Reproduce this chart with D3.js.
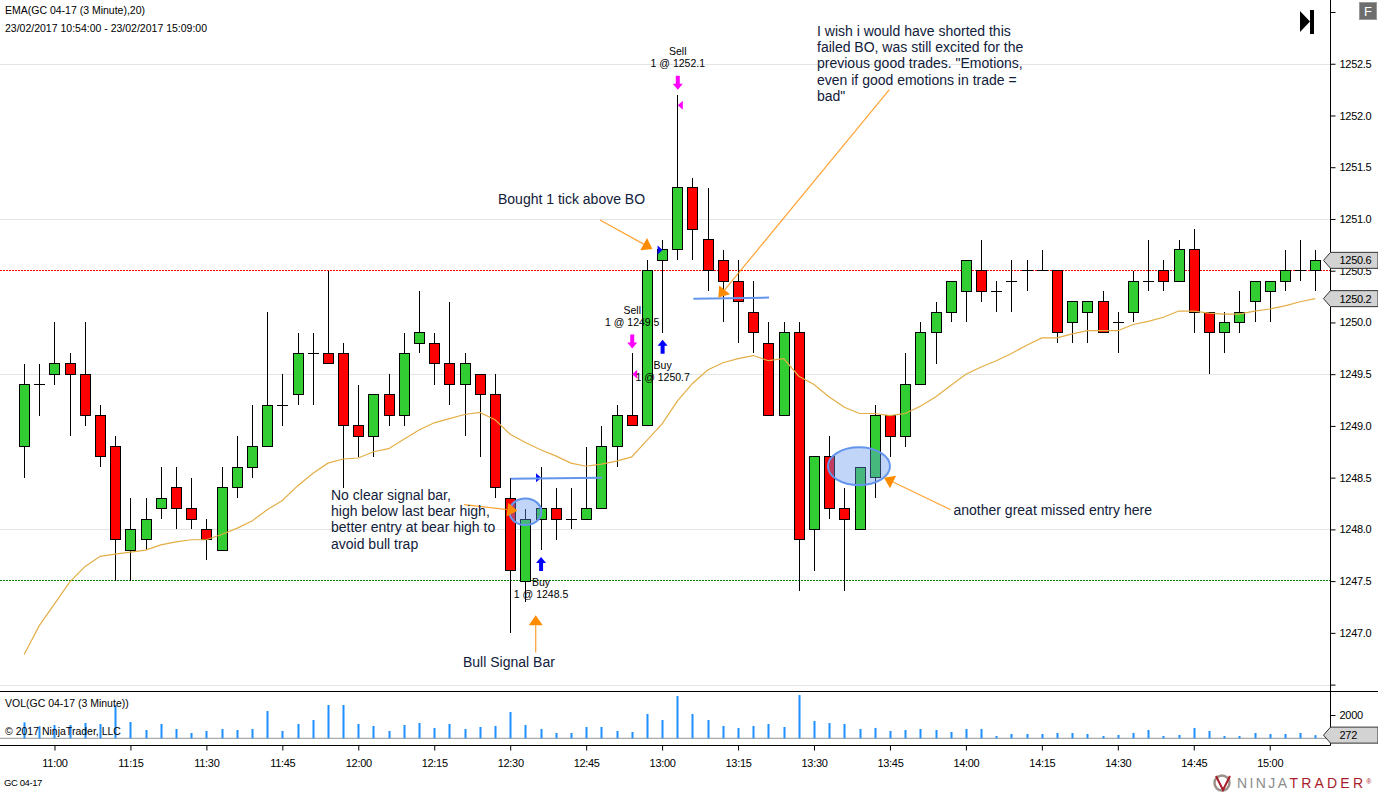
<!DOCTYPE html>
<html>
<head>
<meta charset="utf-8">
<title>GC 04-17</title>
<script src="https://cdn.jsdelivr.net/npm/d3@7"></script>
<style>
html, body { margin: 0; padding: 0; background: #fff; overflow: hidden; }
svg { display: block; }
text { font-family: "Liberation Sans", Arial, sans-serif; fill: #000; }
.tick text { font-size: 11px; letter-spacing: -0.3px; }
.note { font-size: 14px; fill: #10203a; }
.small { font-size: 10.5px; }
.trade { font-size: 10.5px; text-anchor: middle; }
</style>
</head>
<body>
<svg width="1378" height="792"></svg>
<script>
var opens = [1248.8,1249.4,1249.5,1249.6,1249.5,1249.1,1248.8,1247.8,1247.9,1248.2,1248.4,1248.2,1248.0,1247.8,1248.4,1248.6,1248.8,1249.2,1249.3,1249.7,1249.7,1249.7,1249.0,1248.9,1249.3,1249.1,1249.8,1249.8,1249.6,1249.4,1249.5,1249.3,1248.3,1247.5,1248.1,1248.2,1248.1,1248.1,1248.2,1248.8,1249.1,1249.0,1250.6,1250.7,1251.3,1250.8,1250.6,1250.4,1250.1,1249.8,1249.1,1249.9,1248.0,1248.7,1248.2,1248.0,1248.5,1249.1,1248.9,1249.4,1249.9,1250.1,1250.3,1250.5,1250.3,1250.4,1250.5,1250.5,1250.5,1250.0,1250.1,1250.2,1250.0,1250.1,1250.4,1250.5,1250.4,1250.7,1250.1,1249.9,1250.0,1250.2,1250.3,1250.4,1250.5,1250.5];
var highs = [1249.6,1249.6,1250.0,1249.7,1250.0,1249.2,1248.9,1248.3,1248.3,1248.6,1248.6,1248.5,1248.1,1248.6,1248.9,1249.2,1250.1,1249.5,1249.9,1249.9,1250.5,1249.8,1249.4,1249.3,1249.5,1249.9,1250.3,1249.9,1250.2,1249.7,1249.5,1249.5,1248.5,1248.2,1248.6,1248.4,1248.4,1248.8,1249.0,1249.2,1249.7,1250.6,1250.8,1252.2,1251.4,1251.3,1250.7,1250.6,1250.4,1250.0,1250.0,1250.0,1248.7,1248.9,1248.4,1248.6,1249.2,1249.1,1249.7,1250.0,1250.2,1250.4,1250.6,1250.8,1250.4,1250.6,1250.6,1250.7,1250.5,1250.2,1250.2,1250.3,1250.1,1250.5,1250.8,1250.6,1250.8,1250.9,1250.1,1250.1,1250.3,1250.4,1250.4,1250.7,1250.8,1250.7];
var lows = [1248.5,1249.1,1249.4,1248.9,1249.0,1248.6,1247.5,1247.5,1247.8,1248.1,1248.0,1248.0,1247.7,1247.8,1248.3,1248.5,1248.8,1249.0,1249.2,1249.2,1249.6,1248.4,1248.7,1248.7,1249.0,1249.0,1249.7,1249.4,1249.2,1248.9,1248.7,1248.3,1247.0,1247.3,1247.8,1247.9,1248.0,1248.1,1248.2,1248.6,1249.0,1249.0,1249.9,1250.6,1250.6,1250.3,1250.0,1249.8,1249.7,1249.1,1249.1,1247.4,1247.6,1248.1,1247.4,1248.0,1248.3,1248.7,1248.8,1249.4,1249.6,1250.0,1250.0,1250.2,1250.1,1250.1,1250.3,1250.5,1249.8,1249.8,1249.8,1249.9,1249.7,1250.0,1250.3,1250.3,1250.4,1249.9,1249.5,1249.7,1249.9,1250.0,1250.0,1250.3,1250.4,1250.3];
var closes = [1249.4,1249.4,1249.6,1249.5,1249.1,1248.7,1247.9,1248.0,1248.1,1248.3,1248.2,1248.1,1247.9,1248.4,1248.6,1248.8,1249.2,1249.2,1249.7,1249.7,1249.6,1249.0,1248.9,1249.3,1249.1,1249.7,1249.9,1249.6,1249.4,1249.6,1249.3,1248.4,1247.6,1248.1,1248.2,1248.1,1248.1,1248.2,1248.8,1249.1,1249.0,1250.5,1250.7,1251.3,1250.9,1250.5,1250.4,1250.2,1249.9,1249.1,1249.9,1247.9,1248.7,1248.2,1248.1,1248.6,1249.1,1248.9,1249.4,1249.9,1250.1,1250.4,1250.6,1250.3,1250.3,1250.4,1250.5,1250.5,1249.9,1250.2,1250.2,1249.9,1250.0,1250.4,1250.4,1250.4,1250.7,1250.1,1249.9,1250.0,1250.1,1250.4,1250.4,1250.5,1250.5,1250.6];
var emaValues = [1246.79,1247.07,1247.28,1247.49,1247.64,1247.74,1247.76,1247.78,1247.80,1247.85,1247.88,1247.90,1247.90,1247.95,1248.01,1248.08,1248.19,1248.28,1248.42,1248.54,1248.64,1248.68,1248.69,1248.75,1248.78,1248.87,1248.96,1249.03,1249.07,1249.11,1249.13,1249.06,1248.92,1248.84,1248.77,1248.71,1248.64,1248.61,1248.63,1248.66,1248.70,1248.86,1249.02,1249.24,1249.41,1249.54,1249.61,1249.65,1249.68,1249.63,1249.65,1249.48,1249.40,1249.28,1249.18,1249.12,1249.12,1249.10,1249.12,1249.19,1249.28,1249.39,1249.50,1249.57,1249.63,1249.70,1249.78,1249.85,1249.85,1249.89,1249.92,1249.92,1249.92,1249.98,1250.01,1250.05,1250.11,1250.11,1250.09,1250.08,1250.08,1250.11,1250.13,1250.16,1250.20,1250.23];
var volumes = [1370,1030,1140,1140,1310,1230,2860,1400,714,1230,800,457,630,800,714,800,2340,630,1230,1570,2860,2860,1230,1060,630,1140,1310,890,1230,800,970,1060,2260,1140,800,457,457,970,970,630,540,2090,1570,3630,2090,1570,1060,890,1060,1230,970,3710,1490,1310,1230,800,890,630,714,800,714,540,800,800,200,370,370,370,457,457,370,200,286,457,714,200,286,890,630,200,200,457,370,370,457,272];

var priceTicks = [1246.5,1247,1247.5,1248,1248.5,1249,1249.5,1250,1250.5,1251,1251.5,1252,1252.5,1253];
var hiddenPriceTicks = [1246.5,1253];
var gridPrices = [1246.5,1248,1249.5,1251,1252.5];
var levelPrices = [1250.5,1247.5];
var levelColors = ["#ff0000","#008000"];

var tradeBars = [34,40,42,43];
var tradeSides = ["Buy","Sell","Buy","Sell"];
var tradePrices = [1248.5,1249.5,1250.7,1252.1];

var wishLines = ["I wish i would have shorted this","failed BO, was still excited for the","previous good trades. \"Emotions,","even if good emotions in trade =","bad\""];
var signalLines = ["No clear signal bar,","high below last bear high,","better entry at bear high to","avoid bull trap"];

var svg = d3.select("svg"),
    startTime = new Date(2017, 1, 23, 10, 54),
    endTime = new Date(2017, 1, 23, 15, 9),
    axisX = 1330.5,
    priceBottom = 691,
    volBottom = 745.5;

var barTime = function(i) { return new Date(+startTime + i * 180000); };

var x = d3.scaleTime().domain([startTime, endTime]).range([24.1, 1315.3]);
var y = d3.scaleLinear().domain([1246.5, 1253]).range([684.6, 12]);
var v = d3.scaleLinear().domain([0, 2000]).range([738.3, 715]);

var px = function(i) { return x(barTime(i)); };

// price grid
svg.append("g").selectAll("line")
    .data(gridPrices)
    .join("line")
    .attr("x1", 0).attr("x2", axisX)
    .attr("y1", function(d) { return Math.round(y(d)) + 0.5; })
    .attr("y2", function(d) { return Math.round(y(d)) + 0.5; })
    .attr("stroke", "#e4e4e4");

// horizontal levels
svg.append("g").selectAll("line")
    .data(levelPrices)
    .join("line")
    .attr("x1", 0).attr("x2", axisX)
    .attr("y1", function(d) { return Math.round(y(d)) - 0.5; })
    .attr("y2", function(d) { return Math.round(y(d)) - 0.5; })
    .attr("stroke", function(d, i) { return levelColors[i]; })
    .attr("stroke-dasharray", "2,1");

// candles
var candle = svg.append("g").selectAll("g")
    .data(d3.range(opens.length))
    .join("g")
    .attr("transform", function(i) { return "translate(" + Math.round(px(i)) + ",0)"; })
    .attr("shape-rendering", "crispEdges");

candle.append("line")
    .attr("x1", 0.5).attr("x2", 0.5)
    .attr("y1", function(i) { return y(highs[i]); })
    .attr("y2", function(i) { return y(lows[i]); })
    .attr("stroke", "#000");

candle.filter(function(i) { return opens[i] != closes[i]; })
    .append("rect")
    .attr("x", -5).attr("width", 10)
    .attr("y", function(i) { return y(Math.max(opens[i], closes[i])); })
    .attr("height", function(i) { return Math.abs(y(opens[i]) - y(closes[i])); })
    .attr("fill", function(i) { return closes[i] > opens[i] ? "#32cd32" : "#ff0000"; })
    .attr("stroke", "#000");

candle.filter(function(i) { return opens[i] == closes[i]; })
    .append("line")
    .attr("x1", -5).attr("x2", 6)
    .attr("y1", function(i) { return y(opens[i]); })
    .attr("y2", function(i) { return y(opens[i]); })
    .attr("stroke", "#000");

// ema
svg.append("path")
    .datum(emaValues)
    .attr("d", d3.line()
        .x(function(d, i) { return px(i); })
        .y(function(d) { return y(d); }))
    .attr("fill", "none")
    .attr("stroke", "#e3ae45")
    .attr("stroke-width", 1.2);

// axes
var priceAxis = d3.axisRight(y)
    .tickValues(priceTicks)
    .tickSize(5)
    .tickFormat(function(d) { return hiddenPriceTicks.indexOf(d) >= 0 ? "" : d3.format(".1f")(d); });
var gy = svg.append("g")
    .attr("transform", "translate(" + axisX + ",0)")
    .call(priceAxis);
gy.select(".domain").remove();
gy.selectAll("text").attr("x", 9).attr("font-family", null).attr("font-size", null);
gy.selectAll("line").attr("stroke", "#000");

var volAxis = d3.axisRight(v).tickValues([2000]).tickSize(5).tickFormat(d3.format("d"));
var gv = svg.append("g")
    .attr("transform", "translate(" + axisX + ",0)")
    .call(volAxis);
gv.select(".domain").remove();
gv.selectAll("text").attr("x", 9).attr("font-family", null).attr("font-size", null);

var timeAxis = d3.axisBottom(x)
    .ticks(d3.timeMinute.every(15))
    .tickSize(5)
    .tickPadding(9)
    .tickFormat(d3.timeFormat("%H:%M"));
var gx = svg.append("g")
    .attr("transform", "translate(0," + volBottom + ")")
    .call(timeAxis);
gx.select(".domain").remove();
gx.selectAll("text").attr("font-family", null).attr("font-size", null);

// panel frame
svg.append("line").attr("x1", axisX).attr("x2", axisX).attr("y1", 0).attr("y2", volBottom).attr("stroke", "#000");
svg.append("line").attr("x1", 0).attr("x2", 1378).attr("y1", priceBottom + 0.5).attr("y2", priceBottom + 0.5).attr("stroke", "#000");
svg.append("line").attr("x1", 0).attr("x2", axisX).attr("y1", volBottom).attr("y2", volBottom).attr("stroke", "#000");

// volume
svg.append("line").attr("x1", 0).attr("x2", axisX).attr("y1", v(0)).attr("y2", v(0)).attr("stroke", "#aaa").attr("stroke-width", 1.2);
svg.append("g").selectAll("rect")
    .data(volumes)
    .join("rect")
    .attr("x", function(d, i) { return Math.round(px(i)) - 0.5; })
    .attr("width", 2)
    .attr("y", function(d) { return v(d); })
    .attr("height", function(d) { return v(0) - v(d); })
    .attr("fill", "#1e90ff");

// value flags on the axis
function flag(cy, label) {
    var l = axisX - 7;
    svg.append("path")
        .attr("d", "M" + l + "," + cy + "L" + axisX + "," + (cy - 8) + "L1378," + (cy - 8) + "L1378," + (cy + 8) + "L" + axisX + "," + (cy + 8) + "Z")
        .attr("fill", "#d3d3d3").attr("stroke", "#333");
    svg.append("text").attr("class", "small").style("font-size", "11px").style("letter-spacing", "-0.3px")
        .attr("x", 1339.5).attr("y", cy + 4).text(label);
}
flag(y(closes[closes.length - 1]), d3.format(".1f")(closes[closes.length - 1]));
flag(y(emaValues[emaValues.length - 1]), d3.format(".1f")(emaValues[emaValues.length - 1]));
flag(v(volumes[volumes.length - 1]), volumes[volumes.length - 1]);

// trade markers
tradeBars.forEach(function(b, n) {
    var buy = tradeSides[n] == "Buy",
        col = buy ? "#0000ff" : "#ff00ff",
        cx = px(b) + 0.5,
        tip = buy ? y(lows[b]) + 7 : y(highs[b]) - 5,
        dir = buy ? 1 : -1;
    svg.append("path")
        .attr("d", "M" + cx + "," + tip + "l5," + (dir * 6) + "h-3v" + (dir * 8) + "h-4v" + (-dir * 8) + "h-3Z")
        .attr("fill", col);
    // execution triangle at fill price
    var ey = y(tradePrices[n]), ex = buy ? cx - 5 : cx + 5;
    svg.append("path")
        .attr("d", "M" + cx + "," + ey + "L" + ex + "," + (ey - 4.5) + "L" + ex + "," + (ey + 4.5) + "Z")
        .attr("fill", col);
    var top = buy ? tip + 25.5 : tip - 38,
        size = "1 @ " + d3.format(".1f")(tradePrices[n]);
    svg.append("text").attr("class", "trade").attr("x", cx).attr("y", top + 3.5).text(tradeSides[n]);
    svg.append("text").attr("class", "trade").attr("x", cx).attr("y", top + 15.5).text(size);
});

// hand drawn blue lines and ellipses
[[44.06, 1250.23, 49.04, 1250.24], [32.03, 1248.49, 38.03, 1248.50]].forEach(function(d) {
    svg.append("line")
        .attr("x1", px(d[0])).attr("y1", y(d[1]))
        .attr("x2", px(d[2])).attr("y2", y(d[3]))
        .attr("stroke", "#6495ed").attr("stroke-width", 2);
});
[[33.0, 1248.17, 16, 13.3], [54.96, 1248.61, 31, 19]].forEach(function(d) {
    svg.append("ellipse")
        .attr("cx", px(d[0])).attr("cy", y(d[1]))
        .attr("rx", d[2]).attr("ry", d[3])
        .attr("fill", "#6495ed").attr("fill-opacity", 0.4)
        .attr("stroke", "#6495ed").attr("stroke-width", 2);
});

// orange arrows, tail to tip
function arrow(i0, p0, i1, p1) {
    var x0 = px(i0), y0 = y(p0), x1 = px(i1), y1 = y(p1),
        a = Math.atan2(y1 - y0, x1 - x0),
        bx = x1 - 10 * Math.cos(a), by = y1 - 10 * Math.sin(a);
    svg.append("line").attr("x1", x0).attr("y1", y0).attr("x2", bx).attr("y2", by)
        .attr("stroke", "#ff8c00").attr("stroke-opacity", 0.8).attr("stroke-width", 1.2);
    svg.append("path")
        .attr("d", "M" + x1 + "," + y1 +
            "L" + (bx + 7 * Math.sin(a)) + "," + (by - 7 * Math.cos(a)) +
            "L" + (bx - 7 * Math.sin(a)) + "," + (by + 7 * Math.cos(a)) + "Z")
        .attr("fill", "#ff8c00");
}
arrow(37.91, 1250.99, 41.36, 1250.71);
arrow(56.96, 1252.25, 45.70, 1250.24);
arrow(28.96, 1248.24, 32.47, 1248.18);
arrow(33.68, 1246.81, 33.68, 1247.17);
arrow(61.0, 1248.19, 56.61, 1248.50);

// notes
svg.append("text").attr("class", "note").attr("x", 498).attr("y", 204).text("Bought 1 tick above BO");
svg.append("text").attr("class", "note").attr("x", 463).attr("y", 667).text("Bull Signal Bar");
svg.append("text").attr("class", "note").attr("x", 953.5).attr("y", 515).text("another great missed entry here");
svg.append("g").selectAll("text").data(wishLines).join("text")
    .attr("class", "note").attr("x", 817)
    .attr("y", function(d, i) { return 36 + i * 16.2; })
    .text(function(d) { return d; });
svg.append("g").selectAll("text").data(signalLines).join("text")
    .attr("class", "note").attr("x", 331)
    .attr("y", function(d, i) { return 500 + i * 16.2; })
    .text(function(d) { return d; });

// header and footer labels
svg.append("text").attr("class", "small").attr("x", 5).attr("y", 13.5).text("EMA(GC 04-17 (3 Minute),20)");
svg.append("text").attr("class", "small").attr("x", 5).attr("y", 31.5).text("23/02/2017 10:54:00 - 23/02/2017 15:09:00");
svg.append("text").attr("class", "small").attr("x", 5).attr("y", 707).text("VOL(GC 04-17 (3 Minute))");
svg.append("text").attr("class", "small").attr("x", 5).attr("y", 735).text("\u00a9 2017 NinjaTrader, LLC");
svg.append("text").attr("x", 4).attr("y", 786).style("font-size", "9.5px").style("letter-spacing", "-0.4px").text("GC 04-17");

// chart trader buttons
svg.append("path").attr("d", "M1300,11L1310,21.5L1300,32Z").attr("fill", "#000");
svg.append("rect").attr("x", 1310).attr("y", 10).attr("width", 4).attr("height", 24).attr("fill", "#000");
svg.append("rect").attr("x", 1359.5).attr("y", 2.5).attr("width", 17).attr("height", 17).attr("fill", "#6e6e6e").attr("stroke", "#999");
svg.append("text").attr("x", 1368).attr("y", 16).attr("text-anchor", "middle").style("font-size", "13px").style("fill", "#fff").text("F");

// logo
svg.append("circle").attr("cx", 1222).attr("cy", 783).attr("r", 7.5).attr("fill", "none").attr("stroke", "#9a9088").attr("stroke-width", 2.5);
svg.append("path").attr("d", "M1216,776L1223,790L1230,776").attr("fill", "none").attr("stroke", "#a81c2c").attr("stroke-width", 2);
var logo = svg.append("text").attr("x", 1237).attr("y", 788).style("font-size", "14px").style("letter-spacing", "2.4px");
logo.append("tspan").style("fill", "#8c8c8c").text("NINJA");
logo.append("tspan").style("fill", "#a81c2c").style("letter-spacing", "3.2px").text("TRADER");
logo.append("tspan").style("fill", "#a81c2c").style("font-size", "7px").attr("dy", -4).text("\u00ae");
</script>
</body>
</html>
